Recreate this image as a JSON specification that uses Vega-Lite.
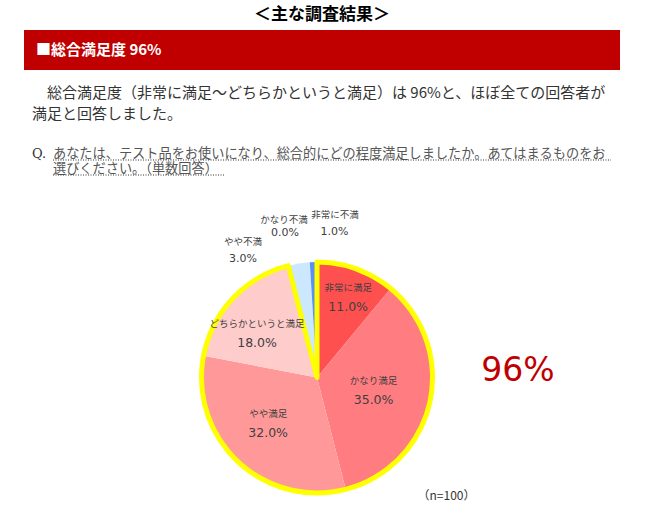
{
  "$schema": "https://vega.github.io/schema/vega-lite/v6.json",
  "background": "white",
  "padding": {"left": 24, "top": 6, "right": 0, "bottom": 0},
  "config": {"view": {"stroke": null}, "font": "Noto Sans CJK JP"},
  "title": {"text": "＜主な調査結果＞", "fontSize": 17, "fontWeight": "bold", "anchor": "middle", "offset": 6, "color": "#000000", "font": "Noto Sans CJK JP"},
  "datasets": {
    "answers": [
      {"answer": "非常に満足", "share": 0.11, "order": 1, "group": "満足"},
      {"answer": "かなり満足", "share": 0.35, "order": 2, "group": "満足"},
      {"answer": "やや満足", "share": 0.32, "order": 3, "group": "満足"},
      {"answer": "どちらかというと満足", "share": 0.18, "order": 4, "group": "満足"},
      {"answer": "やや不満", "share": 0.03, "order": 5, "group": "不満"},
      {"answer": "かなり不満", "share": 0.0, "order": 6, "group": "不満"},
      {"answer": "非常に不満", "share": 0.01, "order": 7, "group": "不満"}
    ],
    "question": [
      {"row": 1, "line": "あなたは、テスト品をお使いになり、総合的にどの程度満足しましたか。あてはまるものをお"},
      {"row": 2, "line": "選びください。（単数回答）"}
    ]
  },
  "spacing": 15,
  "vconcat": [
    {
      "width": 596,
      "height": 40,
      "view": {"fill": "#C00000", "stroke": null},
      "data": {"values": [{"heading": "■総合満足度 96%"}]},
      "mark": {"type": "text", "align": "left", "baseline": "middle", "color": "white", "fontSize": 15, "fontWeight": "bold"},
      "encoding": {"text": {"field": "heading"}, "x": {"value": 12}}
    },
    {
      "spacing": 33.5,
      "vconcat": [
        {
          "width": 596,
          "height": 30,
          "title": {
            "text": ["\u200b　総合満足度（非常に満足〜どちらかというと満足）は 96%と、ほぼ全ての回答者が", "満足と回答しました。"],
            "anchor": "start",
            "frame": "group",
            "dx": 8,
            "font": "Noto Sans CJK JP",
            "fontSize": 15,
            "fontWeight": "normal",
            "color": "#333333",
            "lineHeight": 21,
            "offset": 24.5
          },
          "data": {"name": "question"},
          "encoding": {"y": {"field": "row", "type": "ordinal", "axis": null}},
          "layer": [
            {
              "mark": {"type": "text", "align": "left", "baseline": "middle", "fontSize": 13.2, "color": "#555555"},
              "encoding": {"text": {"field": "line"}, "x": {"value": 29}}
            },
            {
              "transform": [{"filter": "datum.row === 1"}],
              "mark": {"type": "text", "align": "left", "baseline": "middle", "fontSize": 13, "font": "DejaVu Serif", "color": "#333333"},
              "encoding": {"text": {"value": "Q."}, "x": {"value": 8}}
            },
            {
              "transform": [{"filter": "datum.row === 1"}],
              "mark": {"type": "rule", "yOffset": 6.5, "strokeDash": [1, 1.5], "strokeWidth": 1, "color": "#333333"},
              "encoding": {"x": {"value": 29}, "x2": {"value": 587}}
            },
            {
              "transform": [{"filter": "datum.row === 2"}],
              "mark": {"type": "rule", "yOffset": 6.5, "strokeDash": [1, 1.5], "strokeWidth": 1, "color": "#333333"},
              "encoding": {"x": {"value": 29}, "x2": {"value": 201}}
            }
          ]
        },
        {
          "width": 586,
          "height": 270,
          "layer": [
            {
              "data": {"name": "answers"},
              "encoding": {
                "theta": {"field": "share", "type": "quantitative", "stack": true},
                "order": {"field": "order", "type": "quantitative"}
              },
              "layer": [
                {
                  "mark": {"type": "arc", "radius": 115.5},
                  "encoding": {
                    "color": {
                      "field": "answer",
                      "type": "nominal",
                      "scale": {
                        "domain": ["非常に満足", "かなり満足", "やや満足", "どちらかというと満足", "やや不満", "かなり不満", "非常に不満"],
                        "range": ["#FF5050", "#FF7C80", "#FF9999", "#FFCCCC", "#CCE8FF", "#99CCFF", "#5B8FF0"]
                      },
                      "legend": null
                    }
                  }
                },
                {
                  "transform": [{"aggregate": [{"op": "sum", "field": "share", "as": "share"}], "groupby": ["group"]}],
                  "mark": {"type": "arc", "radius": 115.5, "fill": "white", "fillOpacity": 0, "strokeWidth": 5, "strokeJoin": "round"},
                  "encoding": {
                    "order": {"field": "group", "type": "nominal", "sort": "descending"},
                    "stroke": {"condition": {"test": "datum.group === '満足'", "value": "#FFFF00"}, "value": "transparent"}
                  }
                },
                {
                  "mark": {"type": "text", "radius": 86, "dx": 2, "dy": -9, "fontSize": 9.5, "color": "#404040"},
                  "encoding": {"text": {"condition": {"test": "datum.answer === '非常に満足'", "field": "answer"}, "value": ""}}
                },
                {
                  "mark": {"type": "text", "radius": 86, "dx": 2, "dy": 10, "fontSize": 12.5, "font": "DejaVu Sans", "color": "#404040"},
                  "encoding": {"text": {"condition": {"test": "datum.answer === '非常に満足'", "field": "share", "type": "quantitative", "format": ".1%"}, "value": ""}}
                },
                {
                  "mark": {"type": "text", "radius": 58, "dy": -9.5, "fontSize": 9.5, "color": "#404040"},
                  "encoding": {"text": {"condition": {"test": "datum.answer === 'かなり満足'", "field": "answer"}, "value": ""}}
                },
                {
                  "mark": {"type": "text", "radius": 58, "dy": 10, "fontSize": 12.5, "font": "DejaVu Sans", "color": "#404040"},
                  "encoding": {"text": {"condition": {"test": "datum.answer === 'かなり満足'", "field": "share", "type": "quantitative", "format": ".1%"}, "value": ""}}
                },
                {
                  "mark": {"type": "text", "radius": 67, "dx": -3, "dy": -12.8, "fontSize": 9.5, "color": "#404040"},
                  "encoding": {"text": {"condition": {"test": "datum.answer === 'やや満足'", "field": "answer"}, "value": ""}}
                },
                {
                  "mark": {"type": "text", "radius": 67, "dx": -3, "dy": 6.2, "fontSize": 12.5, "font": "DejaVu Sans", "color": "#404040"},
                  "encoding": {"text": {"condition": {"test": "datum.answer === 'やや満足'", "field": "share", "type": "quantitative", "format": ".1%"}, "value": ""}}
                },
                {
                  "mark": {"type": "text", "radius": 74, "dx": -6, "dy": -2.6, "fontSize": 9.5, "color": "#404040"},
                  "encoding": {"text": {"condition": {"test": "datum.answer === 'どちらかというと満足'", "field": "answer"}, "value": ""}}
                },
                {
                  "mark": {"type": "text", "radius": 74, "dx": -6, "dy": 16, "fontSize": 12.5, "font": "DejaVu Sans", "color": "#404040"},
                  "encoding": {"text": {"condition": {"test": "datum.answer === 'どちらかというと満足'", "field": "share", "type": "quantitative", "format": ".1%"}, "value": ""}}
                },
                {
                  "mark": {"type": "text", "radius": 150, "dx": -50.5, "dy": 12.5, "fontSize": 9.5, "color": "#404040"},
                  "encoding": {"text": {"condition": {"test": "datum.answer === 'やや不満'", "field": "answer"}, "value": ""}}
                },
                {
                  "mark": {"type": "text", "radius": 150, "dx": -50.5, "dy": 29.2, "fontSize": 11, "font": "DejaVu Sans", "color": "#404040"},
                  "encoding": {"text": {"condition": {"test": "datum.answer === 'やや不満'", "field": "share", "type": "quantitative", "format": ".1%"}, "value": ""}}
                },
                {
                  "mark": {"type": "text", "radius": 150, "dx": -23.6, "dy": -7.6, "fontSize": 9.5, "color": "#404040"},
                  "encoding": {"text": {"condition": {"test": "datum.answer === 'かなり不満'", "field": "answer"}, "value": ""}}
                },
                {
                  "mark": {"type": "text", "radius": 150, "dx": -22.6, "dy": 5.7, "fontSize": 11, "font": "DejaVu Sans", "color": "#404040"},
                  "encoding": {"text": {"condition": {"test": "datum.answer === 'かなり不満'", "field": "share", "type": "quantitative", "format": ".1%"}, "value": ""}}
                },
                {
                  "mark": {"type": "text", "radius": 150, "dx": 22.7, "dy": -12.4, "fontSize": 9.5, "color": "#404040"},
                  "encoding": {"text": {"condition": {"test": "datum.answer === '非常に不満'", "field": "answer"}, "value": ""}}
                },
                {
                  "mark": {"type": "text", "radius": 150, "dx": 22.2, "dy": 4.2, "fontSize": 11, "font": "DejaVu Sans", "color": "#404040"},
                  "encoding": {"text": {"condition": {"test": "datum.answer === '非常に不満'", "field": "share", "type": "quantitative", "format": ".1%"}, "value": ""}}
                }
              ]
            },
            {
              "data": {"values": [{"note": "96%"}]},
              "mark": {"type": "text", "dx": 201, "dy": -7, "fontSize": 33, "font": "DejaVu Sans", "color": "#C00000"},
              "encoding": {"text": {"field": "note"}}
            },
            {
              "data": {"values": [{"note": "（n=100）"}]},
              "mark": {"type": "text", "dx": 129.5, "dy": 118.5, "fontSize": 12, "color": "#333333"},
              "encoding": {"text": {"field": "note"}}
            }
          ]
        }
      ]
    }
  ]
}
